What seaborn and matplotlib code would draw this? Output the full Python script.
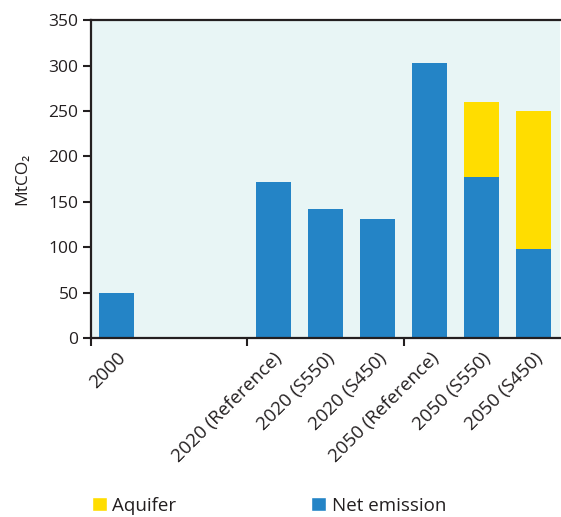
import matplotlib
matplotlib.use("Agg")
import matplotlib.pyplot as plt
from matplotlib.patches import Patch
import pandas as pd
import seaborn as sns

# Data (MtCO2)
slots = ["2000", "gap1", "gap2", "2020 (Reference)", "2020 (S550)", "2020 (S450)",
         "2050 (Reference)", "2050 (S550)", "2050 (S450)"]
scenarios = ["2000", "2020 (Reference)", "2020 (S550)", "2020 (S450)",
             "2050 (Reference)", "2050 (S550)", "2050 (S450)"]
net_emission = [50, 172, 142, 131, 303, 177, 98]
aquifer = [0, 0, 0, 0, 0, 83, 152]

blue = "#2484C6"
yellow = "#FFDD00"
ink = "#231F20"

df = pd.DataFrame({"scenario": scenarios, "net": net_emission, "aquifer": aquifer})
df["total"] = df["net"] + df["aquifer"]

sns.set_style("white")
plt.rcParams["font.family"] = ["Open Sans", "DejaVu Sans"]
plt.rcParams["text.color"] = ink

fig = plt.figure(figsize=(5.61, 5.17), dpi=100)
ax = fig.add_axes([0.162, 0.346, 0.836, 0.615])
ax.set_facecolor("#E8F5F5")

# stacked: totals (yellow) behind, net emission (blue) in front
sns.barplot(data=df, x="scenario", y="total", order=slots, color=yellow,
            width=0.67, saturation=1, linewidth=0, ax=ax)
sns.barplot(data=df, x="scenario", y="net", order=slots, color=blue,
            width=0.67, saturation=1, linewidth=0, ax=ax)

ax.set_xlim(-0.5, 8.5)
ax.set_ylim(0, 350)
ax.set_yticks(range(0, 351, 50))
ax.tick_params(axis="y", left=True, direction="out", length=6, width=1.5, color=ink,
               labelsize=12.5, labelcolor=ink, pad=3)

# labels at bar centres, tick marks between groups
label_pos = [slots.index(s) for s in scenarios]
ax.set_xticks(label_pos)
ax.set_xticklabels(scenarios, rotation=45, ha="right", rotation_mode="anchor",
                   fontsize=13.5, color=ink)
ax.tick_params(axis="x", which="major", bottom=True, length=0, pad=8)
ax.set_xticks([-0.5, 2.5, 5.5], minor=True)
ax.tick_params(axis="x", which="minor", bottom=True, direction="out", length=6,
               width=1.5, color=ink)

ax.set_xlabel("")
ax.set_ylabel("MtCO₂", fontsize=12.5, color=ink, labelpad=13)

for side in ["left", "bottom", "top"]:
    ax.spines[side].set_visible(True)
    ax.spines[side].set_color(ink)
    ax.spines[side].set_linewidth(1.6)
ax.spines["right"].set_visible(False)

handles = [Patch(facecolor=yellow, label="Aquifer"),
           Patch(facecolor=blue, label="Net emission")]
fig.legend(handles=handles, loc="lower left", bbox_to_anchor=(0.15, -0.01),
           ncol=2, frameon=False, fontsize=13.5, handlelength=0.8, handleheight=0.8,
           handletextpad=0.3, columnspacing=7.2, borderaxespad=0)

fig.savefig("out.png", dpi=100)
